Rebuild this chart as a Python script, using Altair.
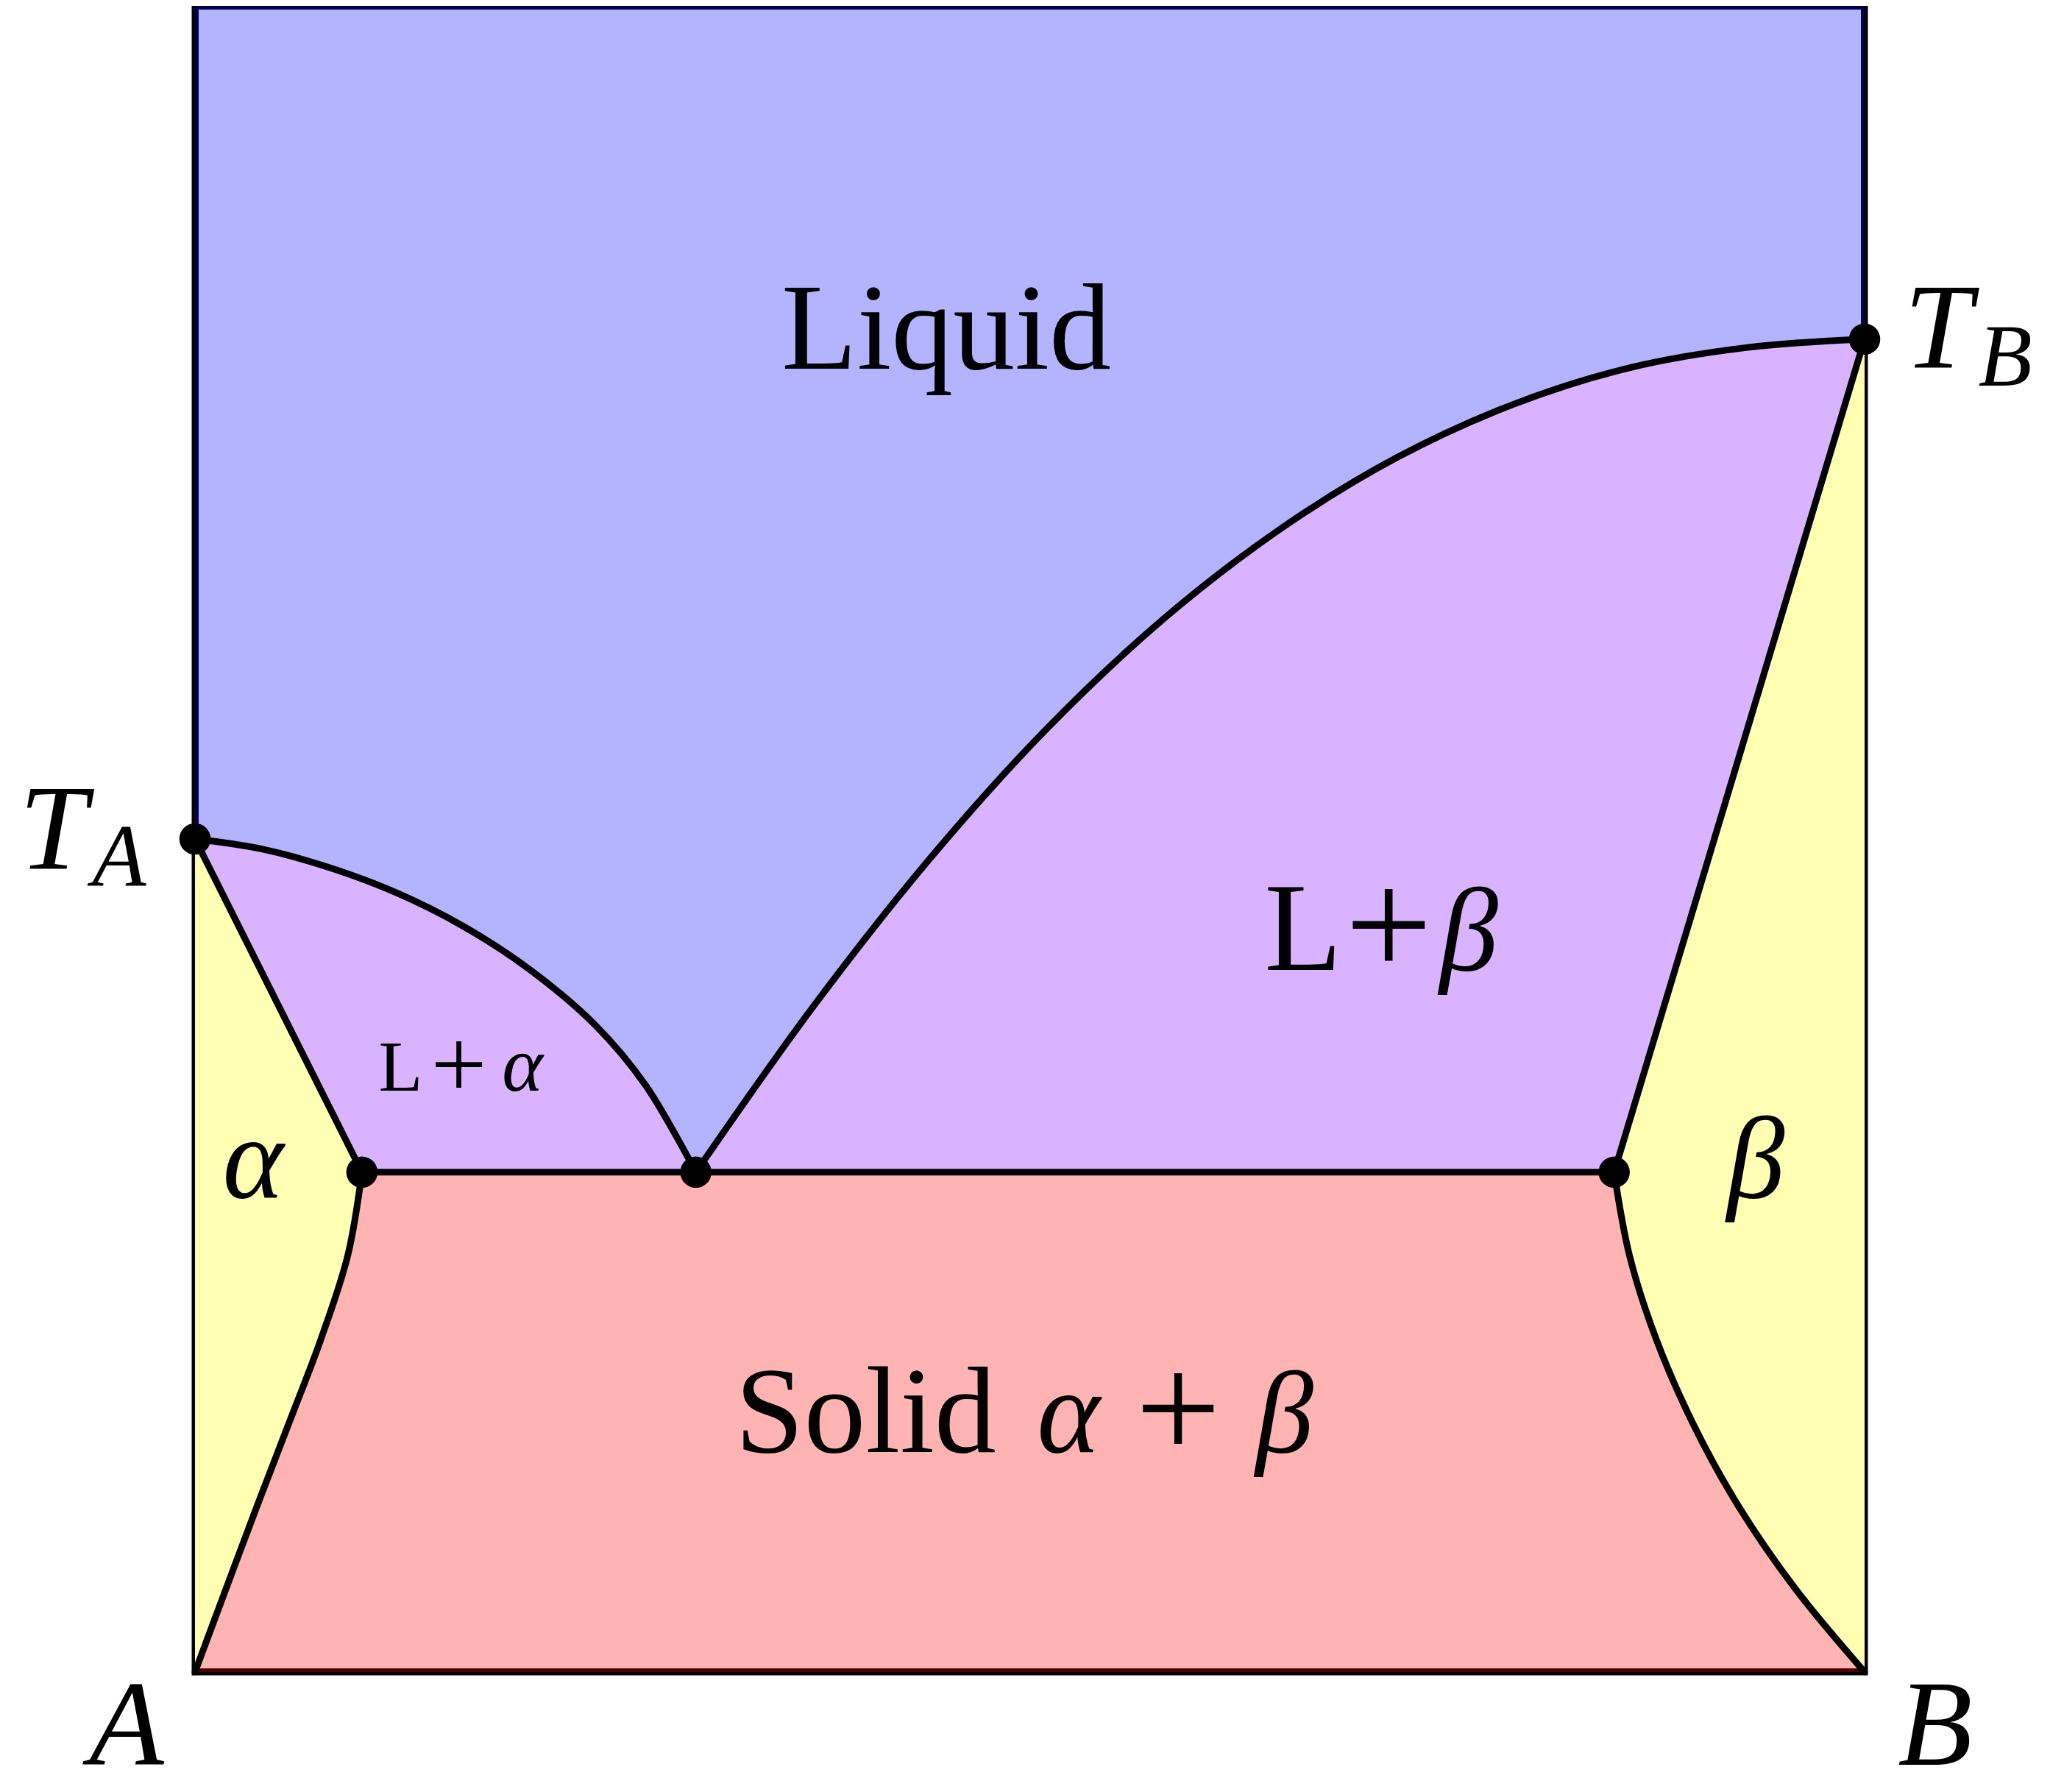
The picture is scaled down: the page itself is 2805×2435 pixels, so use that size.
import altair as alt
import pandas as pd

# ---------------- data (composition x: A=0 .. B=1, temperature y: 0..1) -------------
# left liquidus: from T_A down to the eutectic point
liq_left_x = [0.00, 0.04, 0.08, 0.12, 0.16, 0.20, 0.24, 0.27, 0.30]
liq_left_y = [0.500, 0.494, 0.483, 0.468, 0.448, 0.422, 0.388, 0.352, 0.300]
# right liquidus: from the eutectic point up to T_B
liq_right_x = [0.30, 0.37, 0.44, 0.51, 0.58, 0.65, 0.72, 0.79, 0.86, 0.93, 1.00]
liq_right_y = [0.300, 0.399, 0.488, 0.566, 0.632, 0.686, 0.729, 0.761, 0.783, 0.795, 0.800]
# left solvus: from pure A at the bottom up to the alpha point
solv_left_x = [0.000, 0.0186, 0.0373, 0.0565, 0.0755, 0.0915, 0.100]
solv_left_y = [0.000, 0.050, 0.100, 0.150, 0.200, 0.250, 0.300]
# right solvus: from the beta point down to pure B at the bottom
solv_right_x = [0.850, 0.8592, 0.8751, 0.8968, 0.9242, 0.9585, 1.000]
solv_right_y = [0.300, 0.250, 0.200, 0.150, 0.100, 0.050, 0.000]
# special points
point_names = ["T_A", "alpha", "eutectic", "beta", "T_B"]
point_x = [0.00, 0.10, 0.30, 0.85, 1.00]
point_y = [0.50, 0.30, 0.30, 0.30, 0.80]
# diagram frame
box_x = [0.0, 1.0]
box_y = [0.0, 1.0]

# labels (upright text)
up_text = ["Liquid", "Solid", "+", "L", "+", "L", "+"]
up_x = [0.4500, 0.4017, 0.5888, 0.1232, 0.1580, 0.6637, 0.7149]
up_y = [0.7822, 0.1321, 0.1281, 0.3489, 0.3445, 0.4214, 0.4174]
up_size = [168, 168, 206, 98, 135, 172, 210]
# labels (math italic)
it_text = ["α", "β", "α", "β", "α", "β", "T", "A", "T", "B", "A", "B"]
it_x = [0.5231, 0.6525, 0.1961, 0.7629, 0.0348, 0.9348, -0.0850, -0.0454, 1.0440, 1.0842, -0.0410, 1.0423]
it_y = [0.1321, 0.1321, 0.3489, 0.4214, 0.2849, 0.2849, 0.4823, 0.4717, 0.7831, 0.7721, -0.0557, -0.0557]
it_size = [163, 158, 106, 160, 158, 158, 166, 120, 166, 120, 166, 166]

# ---------------- build tables ----------------
P = dict(zip(point_names, zip(point_x, point_y)))
LL = list(zip(liq_left_x, liq_left_y))
LR = list(zip(liq_right_x, liq_right_y))
SL = list(zip(solv_left_x, solv_left_y))
SR = list(zip(solv_right_x, solv_right_y))
TA, AL, EU, BE, TB = P["T_A"], P["alpha"], P["eutectic"], P["beta"], P["T_B"]
c00, c10, c11, c01 = (box_x[0], box_y[0]), (box_x[1], box_y[0]), (box_x[1], box_y[1]), (box_x[0], box_y[1])

regions = [
    ("liquid", [c01, c11] + LR[::-1] + LL[::-1] + [c01], "#B3B3FF"),
    ("l_alpha", LL + [AL, TA], "#D9B3FF"),
    ("l_beta", LR + [BE, EU], "#D9B3FF"),
    ("alpha", [TA, AL] + SL[::-1][1:] + [TA], "#FFFFB3"),
    ("beta", [TB] + SR[::-1] + [TB], "#FFFFB3"),
    ("solid", [AL] + SR + SL, "#FFB3B3"),
]
# inner coloured rims along the frame
rims = [
    ("liquid_rim", [TA, c01, c11, TB], "#00004D"),
    ("solid_rim", [c00, c10], "#4D0000"),
]

X = alt.Scale(domain=[0, 1], nice=False, zero=False)
Y = alt.Scale(domain=[0, 1], nice=False, zero=False)

def xy():
    return dict(x=alt.X("x:Q", scale=X, axis=None), y=alt.Y("y:Q", scale=Y, axis=None))

def path_df(pts):
    return pd.DataFrame({"i": range(len(pts)), "x": [p[0] for p in pts], "y": [p[1] for p in pts]})

layers = []

# frame (black outer line)
box_df = pd.DataFrame({"x": [box_x[0]], "x2": [box_x[1]], "y": [box_y[0]], "y2": [box_y[1]]})
layers.append(
    alt.Chart(box_df).mark_rect(fill="white", fillOpacity=0, stroke="black", strokeWidth=9)
    .encode(x=alt.X("x:Q", scale=X, axis=None), x2="x2:Q", y=alt.Y("y:Q", scale=Y, axis=None), y2="y2:Q")
)

# filled phase regions
for name, pts, fill in regions:
    layers.append(
        alt.Chart(path_df(pts)).mark_line(fill=fill, stroke=fill, strokeWidth=1, clip=True,
                                          interpolate="linear")
        .encode(order=alt.Order("i:Q"), **xy())
    )

# coloured inner rims on the frame
for name, pts, col in rims:
    layers.append(
        alt.Chart(path_df(pts)).mark_line(stroke=col, strokeWidth=10, clip=True,
                                          strokeJoin="miter", interpolate="linear")
        .encode(order=alt.Order("i:Q"), **xy())
    )

# phase boundary curves
curves = [("liq_left", LL), ("liq_right", LR), ("solv_left", SL), ("solv_right", SR),
          ("sol_left", [TA, AL]), ("sol_right", [BE, TB]), ("eutectic", [AL, BE])]
rows = []
for name, pts in curves:
    for i, (x, y) in enumerate(pts):
        rows.append({"curve": name, "i": i, "x": x, "y": y})
curve_df = pd.DataFrame(rows)
layers.append(
    alt.Chart(curve_df).mark_line(color="black", strokeWidth=9, interpolate="catmull-rom", strokeCap="round")
    .encode(detail="curve:N", order=alt.Order("i:Q"), **xy())
)

# points
pt_df = pd.DataFrame({"name": point_names, "x": point_x, "y": point_y})
layers.append(
    alt.Chart(pt_df).mark_circle(size=1810, color="black", opacity=1).encode(**xy())
)

# labels
up_df = pd.DataFrame({"t": up_text, "x": up_x, "y": up_y, "s": up_size})
layers.append(
    alt.Chart(up_df).mark_text(font="Liberation Serif", align="center", baseline="alphabetic", color="black")
    .encode(text="t:N", size=alt.Size("s:Q", scale=None), **xy())
)
it_df = pd.DataFrame({"t": it_text, "x": it_x, "y": it_y, "s": it_size})
layers.append(
    alt.Chart(it_df).mark_text(font="Liberation Serif", fontStyle="italic", align="center",
                               baseline="alphabetic", color="black")
    .encode(text="t:N", size=alt.Size("s:Q", scale=None), **xy())
)

chart = alt.layer(*layers).properties(
    width=2269, height=2264,
    autosize=alt.AutoSizeParams(type="none"),
    padding={"left": 257, "top": 0, "right": 263, "bottom": 163},
).configure_view(stroke=None)

chart.save("out.html", embed_options={"renderer": "svg", "actions": False})
